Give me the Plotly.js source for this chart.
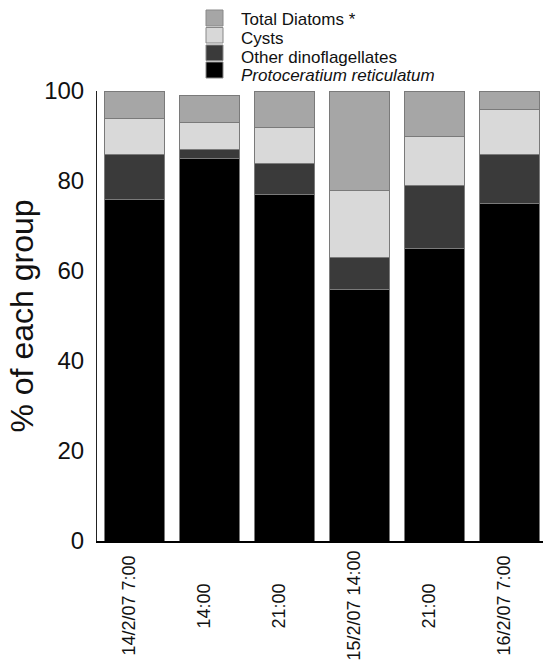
<!DOCTYPE html>
<html>
<head>
<meta charset="utf-8">
<script src="https://cdn.plot.ly/plotly-3.0.1.min.js"></script>
<style>html,body{margin:0;padding:0;background:#fff;}#chart{width:543px;height:665px;}</style>
</head>
<body>
<div id="chart"></div>
<script>
// ---- data ----
var categories = ["14/2/07 7:00", "14:00", "21:00", "15/2/07 14:00", "21:00", "16/2/07 7:00"];
var seriesNames = ["Protoceratium reticulatum", "Other dinoflagellates", "Cysts", "Total Diatoms *"];
var protoceratium = [76, 85, 77, 56, 65, 75];
var otherDinos = [10, 2, 7, 7, 14, 11];
var cysts = [8, 6, 8, 15, 11, 10];
var diatoms = [6, 6, 8, 22, 10, 4];
var yTicks = [0, 20, 40, 60, 80, 100];

// ---- layout helpers ----
var W = 543, H = 665;
var M = {l: 97, r: 0, t: 91, b: 124};
var PW = W - M.l - M.r, PH = H - M.t - M.b;
function pxX(x) { return (x - M.l) / PW; }
function pxY(y) { return (H - M.b - y) / PH; }

var idx = categories.map(function (c, i) { return i; });
var outline = {color: '#7a7a7a', width: 1};
var fills = ['#000000', '#3a3a3a', '#e6e6e6', '#a6a6a6'];
var values = [protoceratium, otherDinos, cysts, diatoms];

var traces = values.map(function (v, k) {
  var marker = {color: fills[k], line: outline};
  if (k === 2) {
    marker.pattern = {shape: '.', fgcolor: '#c2c2c2', bgcolor: '#ebebeb', size: 2, solidity: 0.5};
  }
  return {type: 'bar', x: idx, y: v, name: seriesNames[k], marker: marker, showlegend: false, hoverinfo: 'y+name'};
});

var shapes = [];
var annotations = [];

// x category labels (centered, rotated)
categories.forEach(function (c, i) {
  annotations.push({
    x: i, xref: 'x', y: pxY(606), yref: 'paper',
    text: c, textangle: -90, showarrow: false, xshift: -6,
    xanchor: 'center', yanchor: 'middle',
    font: {family: 'Liberation Sans, Arial, sans-serif', size: 18, color: '#111'}
  });
});

// manual legend (top to bottom: diatoms, cysts, other, proto)
var legendRows = [[10, 26], [27.5, 43], [45, 60.5], [62, 78]];
var legendTextY = [19, 38, 56.5, 75];
var legendFill = ['#a6a6a6', '#d8d8d8', '#3a3a3a', '#000000'];
var legendOrder = [3, 2, 1, 0];
legendOrder.forEach(function (k, r) {
  var row = legendRows[r];
  shapes.push({
    type: 'rect', xref: 'paper', yref: 'paper',
    x0: pxX(206), x1: pxX(223), y0: pxY(row[1]), y1: pxY(row[0]),
    fillcolor: legendFill[r], line: {color: '#888', width: 1}
  });
  var label = seriesNames[k];
  if (k === 0) label = '<i>' + label + '</i>';
  annotations.push({
    x: pxX(240), xref: 'paper', y: pxY(legendTextY[r]), yref: 'paper',
    text: label, showarrow: false, xanchor: 'left', yanchor: 'middle',
    height: 18, borderpad: 0,
    font: {family: 'Liberation Sans, Arial, sans-serif', size: 17, color: '#111'}
  });
});

var layout = {
  width: W, height: H,
  margin: M,
  paper_bgcolor: '#ffffff', plot_bgcolor: '#ffffff',
  barmode: 'stack', bargap: 0.2,
  showlegend: false,
  font: {family: 'Liberation Sans, Arial, sans-serif', color: '#111'},
  xaxis: {
    range: [-0.5, -0.5 + PW / 75], showticklabels: false, ticks: '',
    showgrid: false, zeroline: false, showline: true, linecolor: '#000', linewidth: 2,
    fixedrange: true
  },
  yaxis: {
    range: [0, 100], tickvals: yTicks, ticks: '', ticklabelstandoff: 7,
    tickfont: {size: 24, color: '#111'},
    showgrid: false, zeroline: false, showline: true, linecolor: '#222', linewidth: 1,
    title: {text: '% of each group', font: {size: 32, color: '#111'}, standoff: 0},
    automargin: false, fixedrange: true
  },
  shapes: shapes,
  annotations: annotations
};

Plotly.newPlot('chart', traces, layout, {displayModeBar: false, staticPlot: true});
</script>
</body>
</html>
